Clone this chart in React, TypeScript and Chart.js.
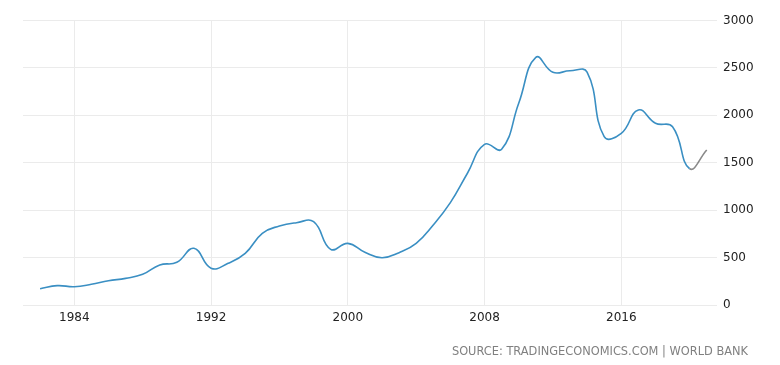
import React, { useEffect, useRef } from "react";
import { Chart, registerables } from "chart.js";

Chart.register(...registerables);

const years: number[] = [
  1982, 1983, 1984, 1985, 1986, 1987, 1988, 1989, 1990, 1991,
  1992, 1993, 1994, 1995, 1996, 1997, 1998, 1999, 2000, 2001,
  2002, 2003, 2004, 2005, 2006, 2007, 2008, 2009, 2010, 2011,
  2012, 2013, 2014, 2015, 2016, 2017, 2018, 2019, 2020, 2021,
];
const values: number[] = [
  172, 204, 193, 218, 256, 281, 323, 422, 450, 598,
  388, 440, 545, 756, 833, 868, 878, 587, 650, 556,
  499, 552, 650, 844, 1079, 1389, 1694, 1642, 2127, 2612,
  2454, 2470, 2455, 1775, 1810, 2056, 1916, 1880, 1437, 1634,
];
const xTicks: number[] = [1984, 1992, 2000, 2008, 2016];
const yTicks: number[] = [0, 500, 1000, 1500, 2000, 2500, 3000];
const sourceText = "SOURCE: TRADINGECONOMICS.COM | WORLD BANK";

export default function App() {
  const ref = useRef<HTMLCanvasElement | null>(null);
  useEffect(() => {
    if (!ref.current) return;
    const last = values.length - 1;
    const chart = new Chart(ref.current, {
      type: "line",
      data: {
        datasets: [
          {
            data: years.map((y, i) => ({ x: y, y: values[i] })),
            borderColor: "#3a8fc3",
            borderWidth: 1.6,
            pointRadius: 0,
            tension: 0.45,
            fill: false,
            segment: {
              borderColor: (ctx: any) => (ctx.p1DataIndex === last ? "#8a8a8a" : undefined),
            },
          },
        ],
      },
      options: {
        animation: false,
        responsive: false,
        maintainAspectRatio: false,
        layout: { padding: { left: 23, right: 0, top: 20.5, bottom: 40 } },
        plugins: { legend: { display: false }, tooltip: { enabled: false } },
        scales: {
          x: {
            type: "linear",
            min: 1981,
            max: 2021.6,
            afterBuildTicks: (s: any) => {
              s.ticks = xTicks.map((v) => ({ value: v }));
            },
            afterFit: (s: any) => {
              s.height = 20;
            },
            grid: { color: "#ebebeb", drawTicks: false, lineWidth: 1 },
            border: { display: false },
            ticks: {
              padding: 6,
              color: "#222",
              font: { family: "DejaVu Sans", size: 12 },
              callback: (v: any) => String(v),
              maxRotation: 0,
            },
          },
          y: {
            position: "right",
            min: 0,
            max: 3000,
            afterBuildTicks: (s: any) => {
              s.ticks = yTicks.map((v) => ({ value: v }));
            },
            afterFit: (s: any) => {
              s.width = 63;
            },
            grid: { color: "#ebebeb", drawTicks: false, lineWidth: 1 },
            border: { display: false },
            ticks: {
              padding: 6,
              color: "#222",
              font: { family: "DejaVu Sans", size: 12 },
              callback: (v: any) => String(v),
            },
          },
        },
      },
    });
    return () => chart.destroy();
  }, []);
  return (
    <div style={{ position: "absolute", left: 0, top: 0, width: 780, height: 365, background: "#fff" }}>
      <canvas ref={ref} width={780} height={365} style={{ display: "block" }} />
      <div
        style={{
          position: "absolute",
          right: 32,
          top: 343,
          fontFamily: "DejaVu Sans",
          fontSize: 11.4,
          color: "#808080",
          whiteSpace: "nowrap",
          lineHeight: "16px",
        }}
      >
        {sourceText}
      </div>
    </div>
  );
}
